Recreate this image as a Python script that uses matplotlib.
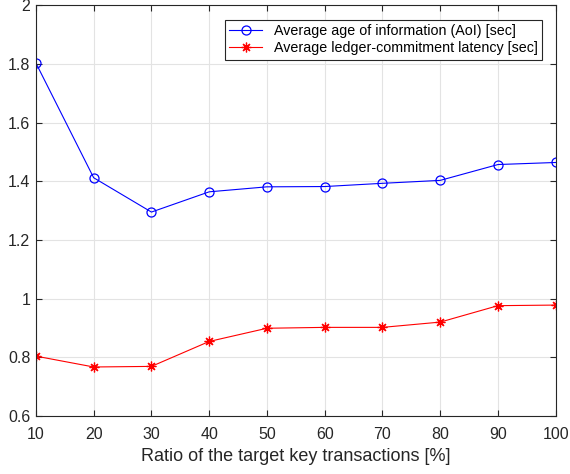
import matplotlib
matplotlib.use('Agg')
import matplotlib.pyplot as plt

# data
ratio = [10, 20, 30, 40, 50, 60, 70, 80, 90, 100]
aoi = [1.803, 1.412, 1.295, 1.364, 1.381, 1.382, 1.393, 1.403, 1.457, 1.464]
latency = [0.804, 0.767, 0.769, 0.854, 0.899, 0.902, 0.902, 0.920, 0.976, 0.978]

plt.rcParams['font.family'] = ['Liberation Sans', 'DejaVu Sans']
plt.rcParams['font.size'] = 10

fig = plt.figure(figsize=(5.7, 4.74), dpi=100)
ax = fig.add_axes([0.063, 0.1224, 0.912, 0.8666])

ax.plot(ratio, aoi, '-o', color='#0000ff', lw=0.8, ms=6.5, mfc='none', mew=0.9,
        label='Average age of information (AoI) [sec]')
ax.plot(ratio, latency, '-', marker=(8, 2, 0), color='#ff0000', lw=0.8, ms=7, mew=0.9,
        label='Average ledger-commitment latency [sec]')

ax.set_xlim(10, 100)
ax.set_ylim(0.6, 2)
ax.set_xticks(ratio)
ax.set_yticks([0.6, 0.8, 1, 1.2, 1.4, 1.6, 1.8, 2])
ax.set_yticklabels(['0.6', '0.8', '1', '1.2', '1.4', '1.6', '1.8', '2'])
ax.grid(True, color='#e3e3e3', lw=0.8)
ax.set_axisbelow(True)
ax.tick_params(direction='in', top=True, right=True, length=4, colors='#262626',
               labelsize=11.5)
ax.tick_params(axis='x', pad=8)
ax.tick_params(axis='y', pad=4)
for s in ax.spines.values():
    s.set_color('#262626')
    s.set_linewidth(0.8)

ax.set_xlabel('Ratio of the target key transactions [%]', fontsize=13, color='#262626',
              labelpad=4)

leg = ax.legend(loc='upper right', bbox_to_anchor=(0.973, 0.965), fontsize=10.3,
                fancybox=False, framealpha=1, edgecolor='#262626',
                handlelength=2.3, borderaxespad=0, labelspacing=0.25, borderpad=0.3)
leg.get_frame().set_linewidth(0.8)

fig.savefig('out.png', dpi=100)
